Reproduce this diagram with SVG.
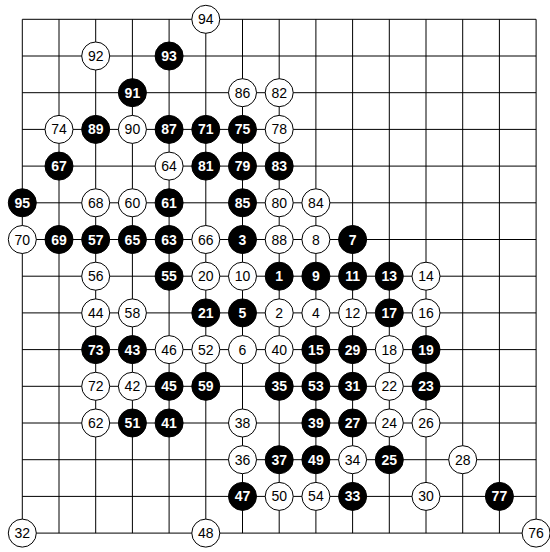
<svg xmlns="http://www.w3.org/2000/svg" width="550" height="552" viewBox="0 0 550 552">
<style>
.grid{stroke:#000;stroke-width:1;fill:none}
.w circle{fill:#fff;stroke:#000;stroke-width:1}
.b circle{fill:#000;stroke:#000;stroke-width:1}
text{font-family:"Liberation Sans",Arial,sans-serif;font-size:14px;text-anchor:middle}
.w text{fill:#000}
.b text{fill:#fff;font-weight:bold}
</style>
<rect width="550" height="552" fill="#fff"/>
<g id="connectors" class="grid">
<path d="M22.3 19.3H536.1M22.3 56H536.1M22.3 92.7H536.1M22.3 129.4H536.1M22.3 166.1H536.1M22.3 202.8H536.1M22.3 239.5H536.1M22.3 276.2H536.1M22.3 312.9H536.1M22.3 349.6H536.1M22.3 386.3H536.1M22.3 423H536.1M22.3 459.7H536.1M22.3 496.4H536.1M22.3 533.1H536.1"/>
<path d="M22.3 19.3V533.1M59 19.3V533.1M95.7 19.3V533.1M132.4 19.3V533.1M169.1 19.3V533.1M205.8 19.3V533.1M242.5 19.3V533.1M279.2 19.3V533.1M315.9 19.3V533.1M352.6 19.3V533.1M389.3 19.3V533.1M426 19.3V533.1M462.7 19.3V533.1M499.4 19.3V533.1M536.1 19.3V533.1"/>
</g>
<g id="stones">
<g id="s94" class="w" transform="translate(205.8,19.3)"><circle r="14"/><text y="5">94</text></g>
<g id="s92" class="w" transform="translate(95.7,56)"><circle r="14"/><text y="5">92</text></g>
<g id="s93" class="b" transform="translate(169.1,56)"><circle r="14"/><text y="5">93</text></g>
<g id="s91" class="b" transform="translate(132.4,92.7)"><circle r="14"/><text y="5">91</text></g>
<g id="s86" class="w" transform="translate(242.5,92.7)"><circle r="14"/><text y="5">86</text></g>
<g id="s82" class="w" transform="translate(279.2,92.7)"><circle r="14"/><text y="5">82</text></g>
<g id="s74" class="w" transform="translate(59,129.4)"><circle r="14"/><text y="5">74</text></g>
<g id="s89" class="b" transform="translate(95.7,129.4)"><circle r="14"/><text y="5">89</text></g>
<g id="s90" class="w" transform="translate(132.4,129.4)"><circle r="14"/><text y="5">90</text></g>
<g id="s87" class="b" transform="translate(169.1,129.4)"><circle r="14"/><text y="5">87</text></g>
<g id="s71" class="b" transform="translate(205.8,129.4)"><circle r="14"/><text y="5">71</text></g>
<g id="s75" class="b" transform="translate(242.5,129.4)"><circle r="14"/><text y="5">75</text></g>
<g id="s78" class="w" transform="translate(279.2,129.4)"><circle r="14"/><text y="5">78</text></g>
<g id="s67" class="b" transform="translate(59,166.1)"><circle r="14"/><text y="5">67</text></g>
<g id="s64" class="w" transform="translate(169.1,166.1)"><circle r="14"/><text y="5">64</text></g>
<g id="s81" class="b" transform="translate(205.8,166.1)"><circle r="14"/><text y="5">81</text></g>
<g id="s79" class="b" transform="translate(242.5,166.1)"><circle r="14"/><text y="5">79</text></g>
<g id="s83" class="b" transform="translate(279.2,166.1)"><circle r="14"/><text y="5">83</text></g>
<g id="s95" class="b" transform="translate(22.3,202.8)"><circle r="14"/><text y="5">95</text></g>
<g id="s68" class="w" transform="translate(95.7,202.8)"><circle r="14"/><text y="5">68</text></g>
<g id="s60" class="w" transform="translate(132.4,202.8)"><circle r="14"/><text y="5">60</text></g>
<g id="s61" class="b" transform="translate(169.1,202.8)"><circle r="14"/><text y="5">61</text></g>
<g id="s85" class="b" transform="translate(242.5,202.8)"><circle r="14"/><text y="5">85</text></g>
<g id="s80" class="w" transform="translate(279.2,202.8)"><circle r="14"/><text y="5">80</text></g>
<g id="s84" class="w" transform="translate(315.9,202.8)"><circle r="14"/><text y="5">84</text></g>
<g id="s70" class="w" transform="translate(22.3,239.5)"><circle r="14"/><text y="5">70</text></g>
<g id="s69" class="b" transform="translate(59,239.5)"><circle r="14"/><text y="5">69</text></g>
<g id="s57" class="b" transform="translate(95.7,239.5)"><circle r="14"/><text y="5">57</text></g>
<g id="s65" class="b" transform="translate(132.4,239.5)"><circle r="14"/><text y="5">65</text></g>
<g id="s63" class="b" transform="translate(169.1,239.5)"><circle r="14"/><text y="5">63</text></g>
<g id="s66" class="w" transform="translate(205.8,239.5)"><circle r="14"/><text y="5">66</text></g>
<g id="s3" class="b" transform="translate(242.5,239.5)"><circle r="14"/><text y="5">3</text></g>
<g id="s88" class="w" transform="translate(279.2,239.5)"><circle r="14"/><text y="5">88</text></g>
<g id="s8" class="w" transform="translate(315.9,239.5)"><circle r="14"/><text y="5">8</text></g>
<g id="s7" class="b" transform="translate(352.6,239.5)"><circle r="14"/><text y="5">7</text></g>
<g id="s56" class="w" transform="translate(95.7,276.2)"><circle r="14"/><text y="5">56</text></g>
<g id="s55" class="b" transform="translate(169.1,276.2)"><circle r="14"/><text y="5">55</text></g>
<g id="s20" class="w" transform="translate(205.8,276.2)"><circle r="14"/><text y="5">20</text></g>
<g id="s10" class="w" transform="translate(242.5,276.2)"><circle r="14"/><text y="5">10</text></g>
<g id="s1" class="b" transform="translate(279.2,276.2)"><circle r="14"/><text y="5">1</text></g>
<g id="s9" class="b" transform="translate(315.9,276.2)"><circle r="14"/><text y="5">9</text></g>
<g id="s11" class="b" transform="translate(352.6,276.2)"><circle r="14"/><text y="5">11</text></g>
<g id="s13" class="b" transform="translate(389.3,276.2)"><circle r="14"/><text y="5">13</text></g>
<g id="s14" class="w" transform="translate(426,276.2)"><circle r="14"/><text y="5">14</text></g>
<g id="s44" class="w" transform="translate(95.7,312.9)"><circle r="14"/><text y="5">44</text></g>
<g id="s58" class="w" transform="translate(132.4,312.9)"><circle r="14"/><text y="5">58</text></g>
<g id="s21" class="b" transform="translate(205.8,312.9)"><circle r="14"/><text y="5">21</text></g>
<g id="s5" class="b" transform="translate(242.5,312.9)"><circle r="14"/><text y="5">5</text></g>
<g id="s2" class="w" transform="translate(279.2,312.9)"><circle r="14"/><text y="5">2</text></g>
<g id="s4" class="w" transform="translate(315.9,312.9)"><circle r="14"/><text y="5">4</text></g>
<g id="s12" class="w" transform="translate(352.6,312.9)"><circle r="14"/><text y="5">12</text></g>
<g id="s17" class="b" transform="translate(389.3,312.9)"><circle r="14"/><text y="5">17</text></g>
<g id="s16" class="w" transform="translate(426,312.9)"><circle r="14"/><text y="5">16</text></g>
<g id="s73" class="b" transform="translate(95.7,349.6)"><circle r="14"/><text y="5">73</text></g>
<g id="s43" class="b" transform="translate(132.4,349.6)"><circle r="14"/><text y="5">43</text></g>
<g id="s46" class="w" transform="translate(169.1,349.6)"><circle r="14"/><text y="5">46</text></g>
<g id="s52" class="w" transform="translate(205.8,349.6)"><circle r="14"/><text y="5">52</text></g>
<g id="s6" class="w" transform="translate(242.5,349.6)"><circle r="14"/><text y="5">6</text></g>
<g id="s40" class="w" transform="translate(279.2,349.6)"><circle r="14"/><text y="5">40</text></g>
<g id="s15" class="b" transform="translate(315.9,349.6)"><circle r="14"/><text y="5">15</text></g>
<g id="s29" class="b" transform="translate(352.6,349.6)"><circle r="14"/><text y="5">29</text></g>
<g id="s18" class="w" transform="translate(389.3,349.6)"><circle r="14"/><text y="5">18</text></g>
<g id="s19" class="b" transform="translate(426,349.6)"><circle r="14"/><text y="5">19</text></g>
<g id="s72" class="w" transform="translate(95.7,386.3)"><circle r="14"/><text y="5">72</text></g>
<g id="s42" class="w" transform="translate(132.4,386.3)"><circle r="14"/><text y="5">42</text></g>
<g id="s45" class="b" transform="translate(169.1,386.3)"><circle r="14"/><text y="5">45</text></g>
<g id="s59" class="b" transform="translate(205.8,386.3)"><circle r="14"/><text y="5">59</text></g>
<g id="s35" class="b" transform="translate(279.2,386.3)"><circle r="14"/><text y="5">35</text></g>
<g id="s53" class="b" transform="translate(315.9,386.3)"><circle r="14"/><text y="5">53</text></g>
<g id="s31" class="b" transform="translate(352.6,386.3)"><circle r="14"/><text y="5">31</text></g>
<g id="s22" class="w" transform="translate(389.3,386.3)"><circle r="14"/><text y="5">22</text></g>
<g id="s23" class="b" transform="translate(426,386.3)"><circle r="14"/><text y="5">23</text></g>
<g id="s62" class="w" transform="translate(95.7,423)"><circle r="14"/><text y="5">62</text></g>
<g id="s51" class="b" transform="translate(132.4,423)"><circle r="14"/><text y="5">51</text></g>
<g id="s41" class="b" transform="translate(169.1,423)"><circle r="14"/><text y="5">41</text></g>
<g id="s38" class="w" transform="translate(242.5,423)"><circle r="14"/><text y="5">38</text></g>
<g id="s39" class="b" transform="translate(315.9,423)"><circle r="14"/><text y="5">39</text></g>
<g id="s27" class="b" transform="translate(352.6,423)"><circle r="14"/><text y="5">27</text></g>
<g id="s24" class="w" transform="translate(389.3,423)"><circle r="14"/><text y="5">24</text></g>
<g id="s26" class="w" transform="translate(426,423)"><circle r="14"/><text y="5">26</text></g>
<g id="s36" class="w" transform="translate(242.5,459.7)"><circle r="14"/><text y="5">36</text></g>
<g id="s37" class="b" transform="translate(279.2,459.7)"><circle r="14"/><text y="5">37</text></g>
<g id="s49" class="b" transform="translate(315.9,459.7)"><circle r="14"/><text y="5">49</text></g>
<g id="s34" class="w" transform="translate(352.6,459.7)"><circle r="14"/><text y="5">34</text></g>
<g id="s25" class="b" transform="translate(389.3,459.7)"><circle r="14"/><text y="5">25</text></g>
<g id="s28" class="w" transform="translate(462.7,459.7)"><circle r="14"/><text y="5">28</text></g>
<g id="s47" class="b" transform="translate(242.5,496.4)"><circle r="14"/><text y="5">47</text></g>
<g id="s50" class="w" transform="translate(279.2,496.4)"><circle r="14"/><text y="5">50</text></g>
<g id="s54" class="w" transform="translate(315.9,496.4)"><circle r="14"/><text y="5">54</text></g>
<g id="s33" class="b" transform="translate(352.6,496.4)"><circle r="14"/><text y="5">33</text></g>
<g id="s30" class="w" transform="translate(426,496.4)"><circle r="14"/><text y="5">30</text></g>
<g id="s77" class="b" transform="translate(499.4,496.4)"><circle r="14"/><text y="5">77</text></g>
<g id="s32" class="w" transform="translate(22.3,533.1)"><circle r="14"/><text y="5">32</text></g>
<g id="s48" class="w" transform="translate(205.8,533.1)"><circle r="14"/><text y="5">48</text></g>
<g id="s76" class="w" transform="translate(536.1,533.1)"><circle r="14"/><text y="5">76</text></g>
</g>
</svg>
